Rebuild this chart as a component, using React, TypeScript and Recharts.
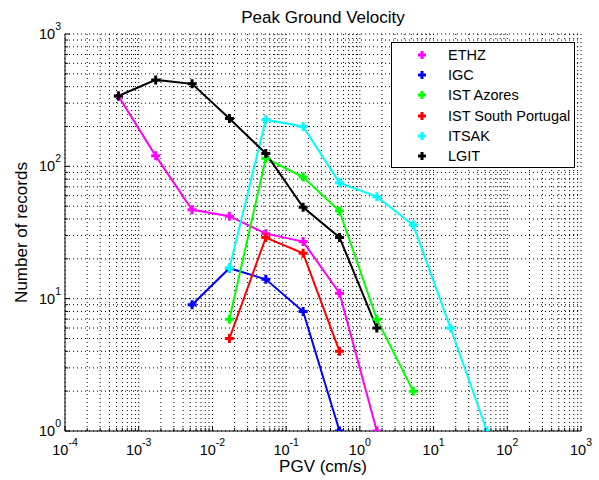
import {
  LineChart,
  Line,
  XAxis,
  YAxis,
  CartesianGrid,
  ReferenceArea,
  Legend,
} from "recharts";

const FONT = '"Liberation Sans", Arial, sans-serif';

// log axes: decades + minor multipliers
const X_DECADES = [-4, -3, -2, -1, 0, 1, 2, 3];
const Y_DECADES = [0, 1, 2, 3];
const MINOR = [1, 2, 3, 4, 5, 6, 7, 8, 9];

const buildTicks = (decades: number[]) =>
  decades
    .slice(0, -1)
    .flatMap((e) => MINOR.map((m) => m * 10 ** e))
    .concat(10 ** decades[decades.length - 1]);

const X_TICKS = buildTicks(X_DECADES);
const Y_TICKS = buildTicks(Y_DECADES);

// PGV bin centres (cm/s)
const ETHZ_X = [5.3e-4, 1.7e-3, 5.3e-3, 0.017, 0.053, 0.17, 0.53, 1.7];
const ETHZ_Y = [340, 120, 47, 42, 31, 27, 11, 1];

const IGC_X = [5.3e-3, 0.017, 0.053, 0.17, 0.53];
const IGC_Y = [9, 17, 14, 8, 1];

const AZORES_X = [0.017, 0.053, 0.17, 0.53, 1.7, 5.3];
const AZORES_Y = [7, 115, 83, 46, 7, 2];

const SPORTUGAL_X = [0.017, 0.053, 0.17, 0.53];
const SPORTUGAL_Y = [5, 29, 22, 4];

const ITSAK_X = [0.017, 0.053, 0.17, 0.53, 1.7, 5.3, 17, 53];
const ITSAK_Y = [17, 225, 200, 75, 59, 36, 6, 1];

const LGIT_X = [5.3e-4, 1.7e-3, 5.3e-3, 0.017, 0.053, 0.17, 0.53, 1.7];
const LGIT_Y = [340, 450, 420, 230, 125, 49, 29, 6];

const zip = (xs: number[], ys: number[]) => xs.map((x, i) => ({ x, y: ys[i] }));

const SERIES = [
  { name: "ETHZ", color: "#ff00ff", data: zip(ETHZ_X, ETHZ_Y) },
  { name: "IGC", color: "#0000ff", data: zip(IGC_X, IGC_Y) },
  { name: "IST Azores", color: "#00ff00", data: zip(AZORES_X, AZORES_Y) },
  { name: "IST South Portugal", color: "#ff0000", data: zip(SPORTUGAL_X, SPORTUGAL_Y) },
  { name: "ITSAK", color: "#00ffff", data: zip(ITSAK_X, ITSAK_Y) },
  { name: "LGIT", color: "#000000", data: zip(LGIT_X, LGIT_Y) },
];

const isDecade = (v: number) => {
  const l = Math.log10(v);
  return Math.abs(l - Math.round(l)) < 1e-6;
};

function BottomTick(props: any) {
  const { x, y, payload } = props;
  const v = payload.value;
  const major = isDecade(v);
  return (
    <g>
      <line x1={x} y1={y} x2={x} y2={y - (major ? 5 : 3)} stroke="#000" />
      {major && (
        <text x={x} y={y + 24} textAnchor="middle" fontSize={14.5} fontFamily={FONT} fill="#000">
          <tspan>10</tspan>
          <tspan dy={-9} fontSize={10.5}>{Math.round(Math.log10(v))}</tspan>
        </text>
      )}
    </g>
  );
}

function LeftTick(props: any) {
  const { x, y, payload } = props;
  const v = payload.value;
  const major = isDecade(v);
  return (
    <g>
      <line x1={x} y1={y} x2={x + (major ? 5 : 3)} y2={y} stroke="#000" />
      {major && (
        <text x={x - 4} y={y + 5} textAnchor="end" fontSize={14.5} fontFamily={FONT} fill="#000">
          <tspan>10</tspan>
          <tspan dy={-9} fontSize={10.5}>{Math.round(Math.log10(v))}</tspan>
        </text>
      )}
    </g>
  );
}

function TopTick(props: any) {
  const { x, y, payload } = props;
  const major = isDecade(payload.value);
  return <line x1={x} y1={y} x2={x} y2={y + (major ? 5 : 3)} stroke="#000" />;
}

function RightTick(props: any) {
  const { x, y, payload } = props;
  const major = isDecade(payload.value);
  return <line x1={x} y1={y} x2={x - (major ? 5 : 3)} y2={y} stroke="#000" />;
}

const plusDot = (color: string) => (props: any) => {
  const { cx, cy, index } = props;
  if (cx == null || cy == null) return <g key={`e${index}`} />;
  return (
    <path
      key={`d${index}`}
      d={`M${cx - 4.5},${cy}H${cx + 4.5}M${cx},${cy - 4.5}V${cy + 4.5}`}
      stroke={color}
      strokeWidth={3}
      fill="none"
    />
  );
};

function LegendBox() {
  return (
    <div
      style={{
        position: "relative",
        width: 182,
        height: 124,
        border: "1px solid #000",
        background: "#fff",
        fontFamily: FONT,
        fontSize: 14.5,
        color: "#000",
      }}
    >
      {SERIES.map((s, i) => (
        <div
          key={s.name}
          style={{
            position: "absolute",
            left: 0,
            top: 1.5 + i * 20.35,
            height: 20,
            display: "flex",
            alignItems: "center",
          }}
        >
          <svg width={10} height={10} style={{ marginLeft: 25 }}>
            <path d="M1,5H9M5,1V9" stroke={s.color} strokeWidth={3} />
          </svg>
          <span style={{ marginLeft: 21, whiteSpace: "nowrap" }}>{s.name}</span>
        </div>
      ))}
    </div>
  );
}

export default function App() {
  return (
    <div style={{ position: "absolute", left: 0, top: 0, width: 599, height: 480, background: "#fff" }}>
      <LineChart width={599} height={480} margin={{ top: 34, right: 18, bottom: 0, left: 0 }}>
        <CartesianGrid stroke="#000" strokeDasharray="1 3" strokeWidth={1} />
        <XAxis
          dataKey="x"
          type="number"
          scale="log"
          domain={[1e-4, 1e3]}
          allowDataOverflow
          ticks={X_TICKS}
          interval={0}
          tickSize={0}
          tickMargin={0}
          height={49}
          axisLine={{ stroke: "#000" }}
          tick={<BottomTick />}
          label={{
            value: "PGV (cm/s)",
            position: "insideBottom",
            offset: 8,
            fontSize: 17,
            fontFamily: FONT,
            fill: "#000",
          }}
        />
        <XAxis
          xAxisId="top"
          orientation="top"
          type="number"
          scale="log"
          domain={[1e-4, 1e3]}
          allowDataOverflow
          ticks={X_TICKS}
          interval={0}
          tickSize={0}
          tickMargin={0}
          height={0}
          axisLine={{ stroke: "#000" }}
          tick={<TopTick />}
        />
        <YAxis
          dataKey="y"
          type="number"
          scale="log"
          domain={[1, 1000]}
          allowDataOverflow
          ticks={Y_TICKS}
          interval={0}
          tickSize={0}
          tickMargin={0}
          width={65}
          axisLine={{ stroke: "#000" }}
          tick={<LeftTick />}
          label={{
            content: (p: any) => {
              const vb = p.viewBox || { x: 0, y: 34, width: 65, height: 397 };
              const cx = vb.x + 27;
              const cy = vb.y + vb.height / 2;
              return (
                <text
                  x={cx}
                  y={cy}
                  transform={`rotate(-90 ${cx} ${cy})`}
                  textAnchor="middle"
                  fontSize={17}
                  fontFamily={FONT}
                  fill="#000"
                >
                  Number of records
                </text>
              );
            },
          }}
        />
        <YAxis
          yAxisId="right"
          orientation="right"
          type="number"
          scale="log"
          domain={[1, 1000]}
          allowDataOverflow
          ticks={Y_TICKS}
          interval={0}
          tickSize={0}
          tickMargin={0}
          width={0}
          axisLine={{ stroke: "#000" }}
          tick={<RightTick />}
        />
        {SERIES.map((s) => (
          <Line
            key={s.name}
            data={s.data}
            dataKey="y"
            name={s.name}
            type="linear"
            stroke={s.color}
            strokeWidth={2}
            dot={plusDot(s.color)}
            activeDot={false}
            isAnimationActive={false}
          />
        ))}
        <Legend
          layout="vertical"
          verticalAlign="middle"
          align="center"
          wrapperStyle={{ left: 391, top: 42, width: 184, height: 126 }}
          content={() => <LegendBox />}
        />
      </LineChart>
      <svg
        width={599}
        height={480}
        style={{ position: "absolute", left: 0, top: 0, pointerEvents: "none" }}
      >
        <text x={323} y={23} textAnchor="middle" fontSize={17} fontFamily={FONT} fill="#000">
          Peak Ground Velocity
        </text>
      </svg>
    </div>
  );
}
